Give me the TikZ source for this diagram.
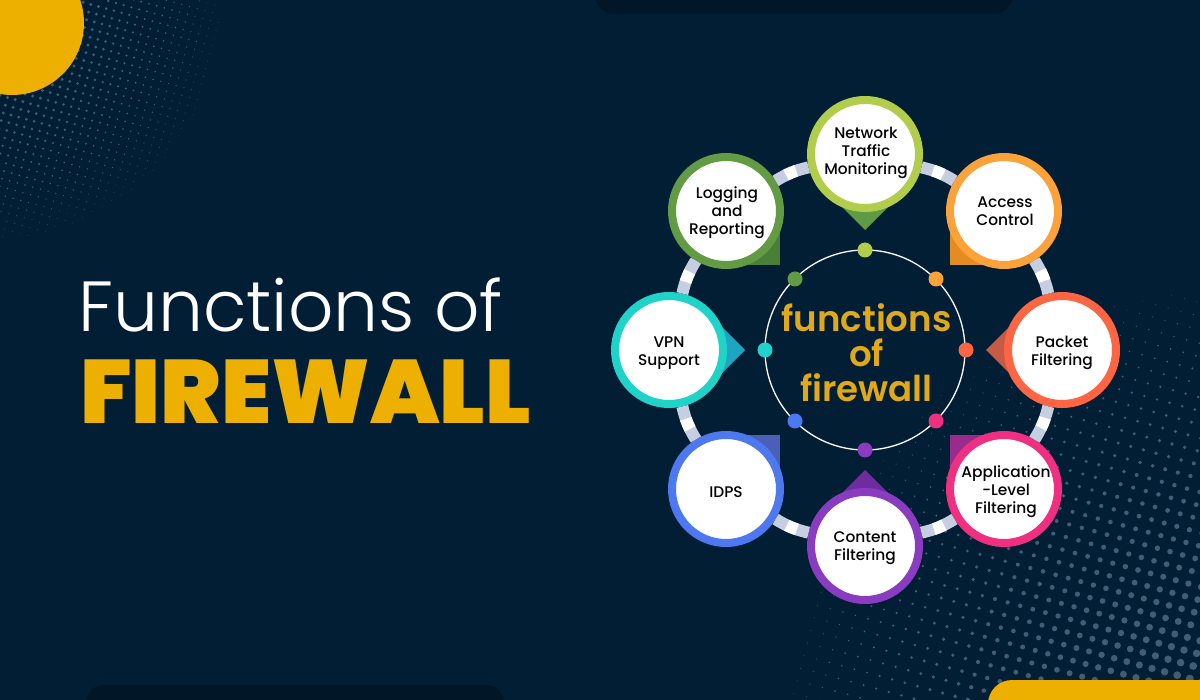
\documentclass[tikz,border=0pt]{standalone}
\usepackage{fontspec}
\setmainfont{Poppins}
\newfontfamily\lightf{Poppins Light}
\newfontfamily\blackf{Poppins Black}
\newfontfamily\medf{Poppins Medium}
\newfontfamily\semif{Poppins SemiBold}
\usetikzlibrary{calc}
\definecolor{bgc}{HTML}{021E35}
\definecolor{darkc}{HTML}{011627}
\definecolor{dotc}{HTML}{3F5E75}
\definecolor{goldc}{HTML}{EDB000}
\definecolor{goldt}{HTML}{E0A91A}
\definecolor{segc}{HTML}{C6CFE2}
\definecolor{c1}{HTML}{B1CD4B}\definecolor{c1d}{HTML}{5F9B44}
\definecolor{c2}{HTML}{FBA23A}\definecolor{c2d}{HTML}{E28C22}
\definecolor{c3}{HTML}{FD6543}\definecolor{c3d}{HTML}{C65A44}
\definecolor{c4}{HTML}{EF2F7F}\definecolor{c4d}{HTML}{9B2A8E}
\definecolor{c5}{HTML}{8A3CC0}\definecolor{c5d}{HTML}{6E2CA0}
\definecolor{c6}{HTML}{4D78F0}\definecolor{c6d}{HTML}{4A5FB5}
\definecolor{c7}{HTML}{20D3C8}\definecolor{c7d}{HTML}{1EA5C0}
\definecolor{c8}{HTML}{639A44}\definecolor{c8d}{HTML}{4A7F3A}
\tikzset{
  ringnode/.style={circle,draw=#1,line width=8pt,fill=white,minimum size=108pt,inner sep=0pt},
  ringtext/.style={inner sep=0pt,align=center,text=black,font=\medf\fontsize{15.4}{18}\selectfont},
  hubdot/.style={circle,fill=#1,minimum size=15pt,inner sep=0pt},
  linkbase/.style={line width=12pt,color=segc,bend left=9},
  linkwhite/.style={line width=12pt,color=white,bend left=9,dash pattern=on 0pt off 12pt on 11pt off 200pt},
}
\newcommand{\halftone}[8]{%
 \foreach \i in {0,...,#7}{\foreach \j in {-#8,...,#7}{%
   \pgfmathsetmacro{\px}{#1+\i*#5-\j*#6}%
   \pgfmathsetmacro{\py}{#2+\i*#6+\j*#5}%
   \pgfmathsetmacro{\dd}{veclen(\px-#1,\py-#2)}%
   \pgfmathsetmacro{\rr}{#4*(1-\dd/#3)}%
   \ifdim\rr pt>0.35pt
     \fill[dotc] (\px,\py) circle[radius=\rr pt];
   \fi
 }}}
\newcommand{\pinshape}[4]{%
  \fill[#4] (#1) -- ($(#1)+0.5*(#2,#3)+0.5*(#3,-#2)$) -- ($(#1)+(#2,#3)$) -- ($(#1)+0.5*(#2,#3)-0.5*(#3,-#2)$) -- cycle;}
\begin{document}
\begin{tikzpicture}[x=1pt,y=-1pt]
\useasboundingbox (0,0) rectangle (1200,700);
\clip (0,0) rectangle (1200,700);
\fill[bgc] (0,0) rectangle (1200,700);
\halftone{-10}{10}{265}{2.6}{7.7}{2.1}{36}{10}
\begin{scope}[shift={(1230,730)}]
\halftone{0}{0}{480}{4.6}{-12.6}{-3.4}{42}{12}
\end{scope}
\fill[goldc] (12,23) circle[radius=72pt];
\fill[darkc,rounded corners=18pt] (596,-40) rectangle (1012,14);
\fill[darkc,rounded corners=18pt] (86,685) rectangle (504,740);
\fill[goldc,rounded corners=24pt] (988,680) rectangle (1260,760);
\node[anchor=base west,inner sep=0pt,text=white,font=\lightf\fontsize{71}{71}\selectfont] (ttl) at (78,332) {Functions of};
\node[anchor=base west,inner sep=0pt,text=goldc,font=\blackf\fontsize{90}{90}\selectfont] (fw) at (80,424) {FIREWALL};
\coordinate (hub) at (865,350);
\draw[white,line width=1.3pt] (hub) circle[radius=100pt];
\node[align=center,text=goldt,font=\semif\fontsize{35.6}{35}\selectfont] (hubt) at (866.5,353) {functions\\of\\firewall};
\coordinate (pn) at (865,154);
\coordinate (pa) at (1004,211);
\coordinate (pp) at (1062,350);
\coordinate (pf) at (1004,489);
\coordinate (pc) at (865,546);
\coordinate (pi) at (726,489);
\coordinate (pv) at (669,350);
\coordinate (pl) at (726,211);
\pinshape{pn}{0}{76}{c1d}
\pinshape{pa}{-54}{54}{c2d}
\pinshape{pp}{-76}{0}{c3d}
\pinshape{pf}{-54}{-54}{c4d}
\pinshape{pc}{0}{-76}{c5d}
\pinshape{pi}{54}{-54}{c6d}
\pinshape{pv}{76}{0}{c7d}
\pinshape{pl}{54}{54}{c8d}
\node[ringnode={c1}] (n1) at (pn) {};
\node[ringnode={c2}] (n2) at (pa) {};
\node[ringnode={c3}] (n3) at (pp) {};
\node[ringnode={c4}] (n4) at (pf) {};
\node[ringnode={c5}] (n5) at (pc) {};
\node[ringnode={c6}] (n6) at (pi) {};
\node[ringnode={c7}] (n7) at (pv) {};
\node[ringnode={c8}] (n8) at (pl) {};
\node[ringtext] (t1) at ($(pn)+(1,-1)$) {Network\\Traffic\\Monitoring};
\node[ringtext] (t2) at ($(pa)+(1,0)$) {Access\\Control};
\node[ringtext] (t3) at ($(pp)+(0,3)$) {Packet\\Filtering};
\node[ringtext] (t4) at ($(pf)+(2,3)$) {Application\\-Level\\Filtering};
\node[ringtext] (t5) at ($(pc)+(0,2)$) {Content\\Filtering};
\node[ringtext] (t6) at ($(pi)+(0,3)$) {IDPS};
\node[ringtext] (t7) at ($(pv)+(0,3)$) {VPN\\Support};
\node[ringtext] (t8) at ($(pl)+(1,2)$) {Logging\\and\\Reporting};
\foreach \a/\b in {n1/n2,n2/n3,n3/n4,n4/n5,n5/n6,n6/n7,n7/n8,n8/n1}{
  \draw[linkbase] (\a) to (\b);
  \draw[linkwhite] (\a) to (\b);
}
\node[hubdot={c1}] (d1) at (865,250) {};
\node[hubdot={c2}] (d2) at (936,279) {};
\node[hubdot={c3}] (d3) at (966,350) {};
\node[hubdot={c4}] (d4) at (936,421) {};
\node[hubdot={c5}] (d5) at (865,450) {};
\node[hubdot={c6}] (d6) at (795,421) {};
\node[hubdot={c7}] (d7) at (765,350) {};
\node[hubdot={c8}] (d8) at (795,279) {};
\end{tikzpicture}
\end{document}
